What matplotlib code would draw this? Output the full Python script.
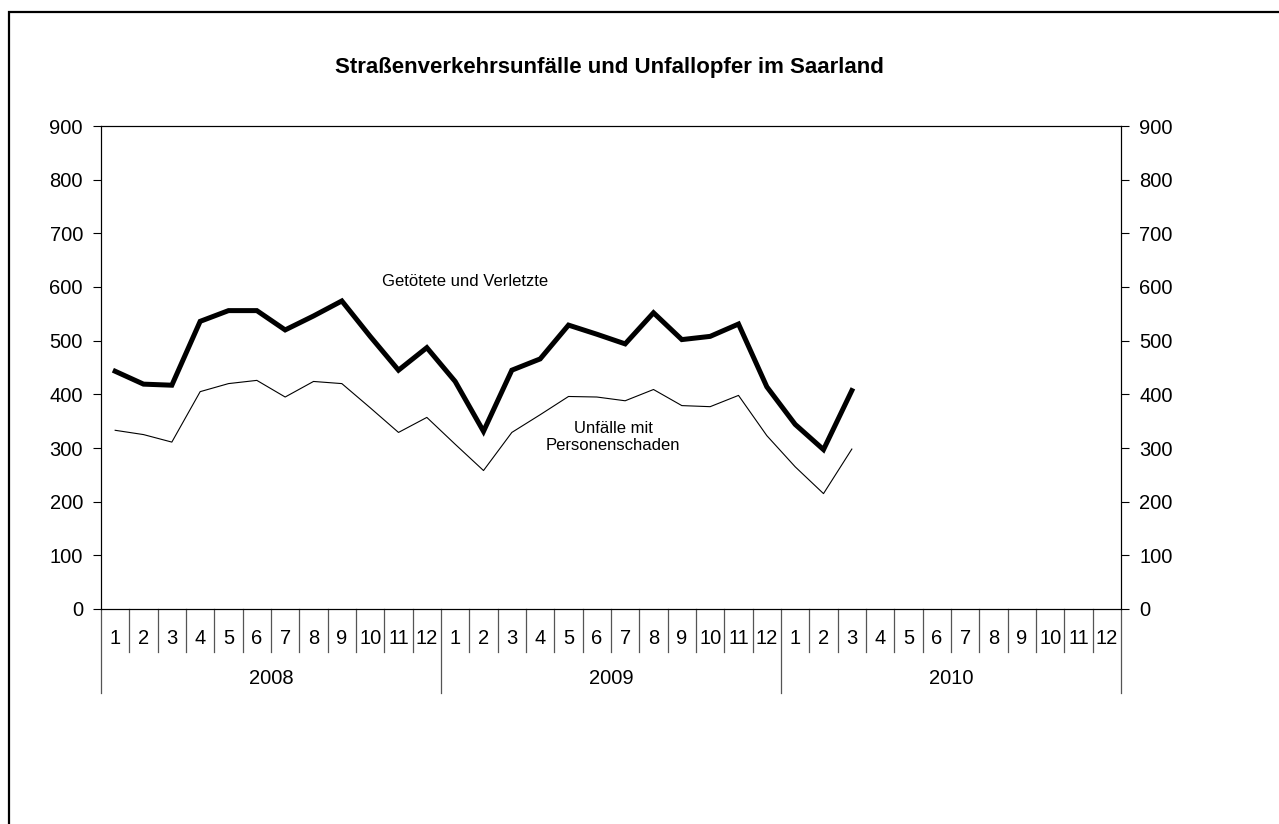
import matplotlib
matplotlib.use("Agg")
import matplotlib.pyplot as plt
import matplotlib.transforms as mtransforms
from matplotlib.patches import Rectangle
import numpy as np

plt.rcParams['font.family'] = ['Liberation Sans', 'DejaVu Sans']

years = ["2008", "2009", "2010"]
months = [str(m) for m in range(1, 13)]
title = "Straßenverkehrsunfälle und Unfallopfer im Saarland"

# Getötete und Verletzte (thick line)
victims = [443, 419, 417, 536, 556, 556, 520, 546, 574, 508, 445, 487,
           424, 331, 445, 466, 529, 512, 494, 552, 502, 508, 531, 414,
           344, 297, 407]
# Unfälle mit Personenschaden (thin line)
accidents = [333, 325, 311, 405, 420, 426, 395, 424, 420, 375, 329, 357,
             307, 258, 329, 362, 396, 395, 388, 409, 379, 377, 398, 323,
             265, 215, 298]

W, H = 1279, 824
fig = plt.figure(figsize=(W / 100, H / 100), dpi=100)
fig.patch.set_facecolor("white")

# outer frame (top and left visible)
fig.add_artist(Rectangle((9 / W, -0.1), 1.2, (H - 12) / H + 0.1,
                         transform=fig.transFigure, fill=False,
                         edgecolor="black", linewidth=1.6))

left, right = 101 / W, 1121 / W
bottom, top = (H - 609) / H, (H - 126) / H
ax = fig.add_axes([left, bottom, right - left, top - bottom])

n_cat = len(years) * 12
x = np.arange(len(victims)) + 0.5
ax.plot(x, victims, color="black", linewidth=3.6, solid_joinstyle="miter")
ax.plot(x, accidents, color="black", linewidth=0.8)

FS = 14.5
ax.set_xlim(0, n_cat)
ax.set_ylim(0, 900)
ax.set_yticks(range(0, 901, 100))
ax.tick_params(axis="y", direction="out", length=6, width=0.8, labelsize=FS, pad=7)
ax.set_xticks([])
for s in ax.spines.values():
    s.set_linewidth(0.8)
    s.set_color("black")

ax2 = ax.twinx()
ax2.set_ylim(0, 900)
ax2.set_yticks(range(0, 901, 100))
ax2.tick_params(axis="y", direction="out", length=6, width=0.8, labelsize=FS, pad=7)
for s in ax2.spines.values():
    s.set_linewidth(0.8)

trans = mtransforms.blended_transform_factory(ax.transData, ax.transAxes)
axh = 483.0
# month separators and labels
for i in range(n_cat + 1):
    is_year = (i % 12 == 0)
    ymin = -84 / axh if is_year else -43 / axh
    ax.plot([i, i], [0, ymin], transform=trans, color="#555555",
            linewidth=0.9, clip_on=False)
for i in range(n_cat):
    ax.text(i + 0.5, -29 / axh, months[i % 12], transform=trans,
            ha="center", va="center", fontsize=FS)
for j, yr in enumerate(years):
    ax.text(j * 12 + 6, -70 / axh, yr, transform=trans,
            ha="center", va="center", fontsize=FS)

ax.text(465 / W, (H - 282) / H, "Getötete und Verletzte", transform=fig.transFigure,
        ha="center", va="center", fontsize=12)
ax.text(613 / W, (H - 437) / H, "Unfälle mit\nPersonenschaden", transform=fig.transFigure,
        ha="center", va="center", fontsize=12, linespacing=1.1)

fig.text(609 / W, (H - 67) / H, title, ha="center", va="center",
         fontsize=16, fontweight="bold")

fig.savefig("out.png", dpi=100)
